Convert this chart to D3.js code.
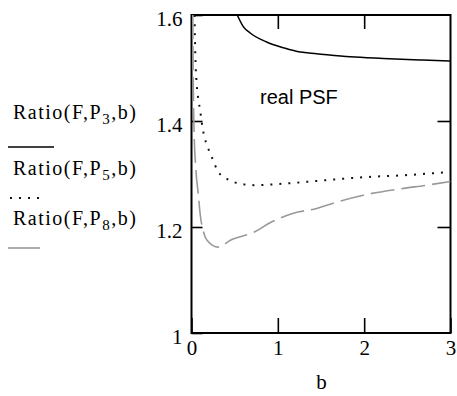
<!DOCTYPE html>
<html><head><meta charset="utf-8">
<script src="https://cdn.jsdelivr.net/npm/d3@7"></script>
<style>body{margin:0;background:#fff;}svg{display:block;}</style>
</head><body>
<svg id="c" width="457" height="396"></svg>
<script>
// Data
const bP3 = [0.53,0.6,0.68,0.87,1.07,1.26,1.45,1.84,2.22,2.68,3.0];
const ratioP3 = [1.6,1.578,1.566,1.549,1.538,1.530,1.527,1.521,1.518,1.515,1.513];
const bP5 = [0.035,0.045,0.06,0.08,0.1,0.12,0.14,0.19,0.24,0.31,0.42,0.55,0.72,1.0,1.46,2.0,2.5,3.0];
const ratioP5 = [1.6,1.52,1.47,1.44,1.42,1.396,1.377,1.35,1.33,1.304,1.29,1.282,1.279,1.281,1.287,1.294,1.298,1.304];
const bP8 = [0.015,0.02,0.03,0.05,0.08,0.1,0.14,0.18,0.31,0.45,0.72,0.91,1.18,1.45,1.64,1.99,2.42,2.73,3.0];
const ratioP8 = [1.6,1.48,1.38,1.31,1.26,1.225,1.19,1.175,1.162,1.175,1.19,1.208,1.226,1.235,1.245,1.26,1.272,1.279,1.286];
const xTicks = [0,1,2,3];
const yTicks = [1,1.2,1.4,1.6];
const legendLabels = [["Ratio(F,P","3",",b)"],["Ratio(F,P","5",",b)"],["Ratio(F,P","8",",b)"]];
const annotation = "real PSF";
const xTitle = "b";

const svg = d3.select("#c");
const L=191.5, R=450.5, T=15, B=333;
const x = d3.scaleLinear().domain([0,3]).range([L,R]);
const y = d3.scaleLinear().domain([1,1.6]).range([B,T]);

svg.append("defs").append("clipPath").attr("id","clip")
  .append("rect").attr("x",L).attr("y",T).attr("width",R-L).attr("height",B-T);

const serif = "'Liberation Serif','Times New Roman',serif";

// axes
const gx = svg.append("g").attr("transform",`translate(0,${B})`)
  .call(d3.axisBottom(x).tickValues(xTicks).tickSizeInner(-15).tickSizeOuter(0).tickPadding(9).tickFormat(d3.format("d")));
const gxt = svg.append("g").attr("transform",`translate(0,${T})`)
  .call(d3.axisTop(x).tickValues([1,2]).tickSizeInner(-14).tickSizeOuter(0).tickFormat(""));
const gy = svg.append("g").attr("transform",`translate(${L},0)`)
  .call(d3.axisLeft(y).tickValues(yTicks).tickSizeInner(-11).tickSizeOuter(0).tickPadding(9).tickFormat(d=>d===1?"1":d3.format(".1f")(d)));
const gyr = svg.append("g").attr("transform",`translate(${R},0)`)
  .call(d3.axisRight(y).tickValues([1.2,1.4]).tickSizeInner(-13).tickSizeOuter(0).tickFormat(""));
[gx,gxt,gy,gyr].forEach(g=>{
  g.select(".domain").remove();
  g.selectAll(".tick line").attr("stroke","#000").attr("stroke-width",1.6);
  g.selectAll("text").attr("font-family",serif).attr("font-size",21).attr("fill","#000");
});
gy.selectAll(".tick text").attr("dy","0.5em");
gx.selectAll(".tick text").attr("dy","0.62em");

// frame
svg.append("rect").attr("x",L).attr("y",T).attr("width",R-L).attr("height",B-T)
  .attr("fill","none").attr("stroke","#000").attr("stroke-width",2);

const line = d3.line().x(d=>x(d[0])).y(d=>y(d[1])).curve(d3.curveMonotoneX);
const plot = svg.append("g").attr("clip-path","url(#clip)");
plot.append("path").datum(d3.zip(bP3,ratioP3)).attr("d",line)
  .attr("fill","none").attr("stroke","#000").attr("stroke-width",1.5);
plot.append("path").datum(d3.zip(bP5,ratioP5)).attr("d",line)
  .attr("fill","none").attr("stroke","#111").attr("stroke-width",2).attr("stroke-dasharray","2,7");
plot.append("path").datum(d3.zip(bP8,ratioP8)).attr("d",line)
  .attr("fill","none").attr("stroke","#999").attr("stroke-width",1.6).attr("stroke-dasharray","24,7");

// annotation
svg.append("text").attr("x",260).attr("y",104).text(annotation)
  .attr("font-family","'Liberation Sans',Arial,sans-serif").attr("font-size",20).attr("fill","#000");

// x title
svg.append("text").attr("x",x(1.5)+0.5).attr("y",389).attr("text-anchor","middle").text(xTitle)
  .attr("font-family",serif).attr("font-size",21);

// legend
const legY = [119,175,225];
const legLine = [{y:147,x1:8,x2:54,stroke:"#000",dash:null,w:1.5},
                 {y:198,x1:10,x2:45,stroke:"#111",dash:"2,7",w:2},
                 {y:248,x1:8,x2:40,stroke:"#999",dash:null,w:1.6}];
legendLabels.forEach((lab,i)=>{
  const t = svg.append("text").attr("x",13).attr("y",legY[i])
    .attr("font-family",serif).attr("font-size",20).attr("letter-spacing",1.5);
  t.append("tspan").text(lab[0]);
  t.append("tspan").attr("font-size",15).attr("dy",5).text(lab[1]);
  t.append("tspan").attr("dy",-5).text(lab[2]);
  const l = legLine[i];
  svg.append("line").attr("x1",l.x1).attr("x2",l.x2).attr("y1",l.y).attr("y2",l.y)
    .attr("stroke",l.stroke).attr("stroke-width",l.w).attr("stroke-dasharray",l.dash);
});
</script>
</body></html>
